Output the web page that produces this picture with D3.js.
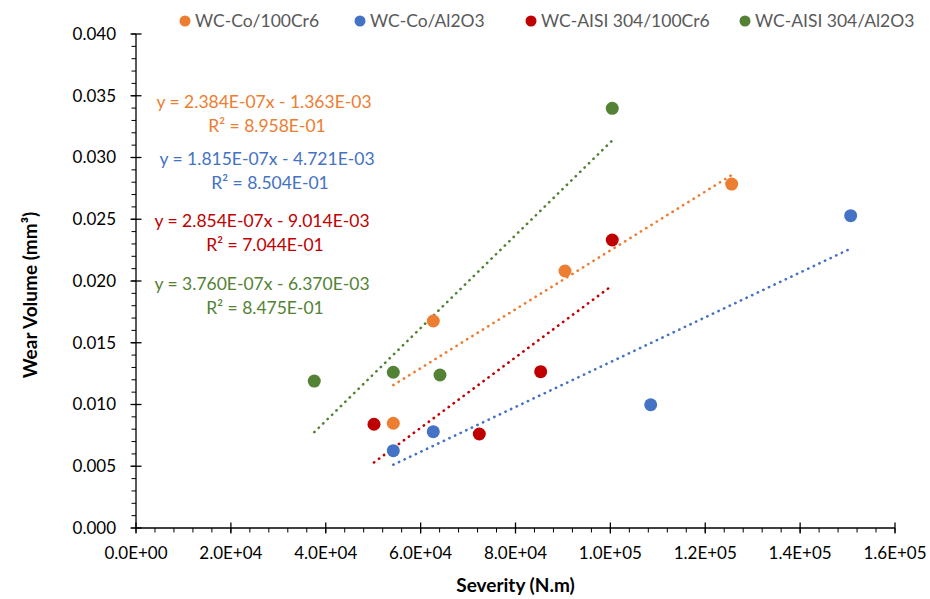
<!DOCTYPE html>
<html>
<head>
<meta charset="utf-8">
<script src="https://cdn.jsdelivr.net/npm/d3@7"></script>
<style>
  html, body { margin: 0; padding: 0; background: #fff; }
  svg { display: block; font-family: Lato, "Open Sans", sans-serif; }
</style>
</head>
<body>
<svg id="chart" width="930" height="599"></svg>
<script>
// ---- data ----
const seriesNames = ["WC-Co/100Cr6", "WC-Co/Al2O3", "WC-AISI 304/100Cr6", "WC-AISI 304/Al2O3"];
const seriesColors = ["#ED7D31", "#4472C4", "#C00000", "#548235"];
const coCr6X = [62670, 54240, 90430, 125570];
const coCr6Y = [0.01676, 0.00848, 0.02081, 0.02785];
const coAlX = [54240, 62670, 108500, 150650];
const coAlY = [0.00626, 0.00780, 0.00998, 0.02529];
const aisiCr6X = [50170, 72370, 85310, 100400];
const aisiCr6Y = [0.00840, 0.00761, 0.01266, 0.02332];
const aisiAlX = [37580, 54240, 64080, 100400];
const aisiAlY = [0.01190, 0.01261, 0.01239, 0.03398];
const slopes = [2.384e-07, 1.815e-07, 2.854e-07, 3.760e-07];
const intercepts = [-1.363e-03, -4.721e-03, -9.014e-03, -6.370e-03];
const rSquared = [8.958e-01, 8.504e-01, 7.044e-01, 8.475e-01];
const xTicks = [0, 20000, 40000, 60000, 80000, 100000, 120000, 140000, 160000];
const yTicks = [0, 0.005, 0.010, 0.015, 0.020, 0.025, 0.030, 0.035, 0.040];
const xTitle = "Severity (N.m)";
const yTitle = "Wear Volume (mm³)";

const seriesX = [coCr6X, coAlX, aisiCr6X, aisiAlX];
const seriesY = [coCr6Y, coAlY, aisiCr6Y, aisiAlY];

// ---- layout ----
const svg = d3.select("#chart");
const pLeft = 136, pRight = 895, pTop = 34, pBottom = 528;
const x = d3.scaleLinear().domain([0, 160000]).range([pLeft, pRight]);
const y = d3.scaleLinear().domain([0, 0.04]).range([pBottom, pTop]);

const fmtExp = v => {
  const s = Math.abs(v).toExponential(3);
  const [m, e] = s.split("e");
  const en = parseInt(e, 10);
  const es = (en < 0 ? "-" : "+") + String(Math.abs(en)).padStart(2, "0");
  return m + "E" + es;
};
const fmtTickX = v => {
  const s = v.toExponential(1);
  const [m, e] = s.split("e");
  const en = parseInt(e, 10);
  return m + "E" + (en < 0 ? "-" : "+") + String(Math.abs(en)).padStart(2, "0");
};

// axes
const axisColor = "#000";
const tickFont = 17;
const gx = svg.append("g");
gx.append("line").attr("x1", pLeft).attr("x2", pRight).attr("y1", pBottom).attr("y2", pBottom)
  .attr("stroke", axisColor).attr("stroke-width", 1.3);
const xMinor = d3.range(0, 160001, 4000);
gx.selectAll(".xminor").data(xMinor).join("line")
  .attr("x1", d => x(d)).attr("x2", d => x(d))
  .attr("y1", pBottom).attr("y2", pBottom + 4.5)
  .attr("stroke", axisColor).attr("stroke-width", 1);
gx.selectAll(".xmajor").data(xTicks).join("line")
  .attr("x1", d => x(d)).attr("x2", d => x(d))
  .attr("y1", pBottom - 5.5).attr("y2", pBottom + 5.5)
  .attr("stroke", axisColor).attr("stroke-width", 1.3);
gx.selectAll(".xlab").data(xTicks).join("text")
  .attr("x", d => x(d)).attr("y", pBottom + 31)
  .attr("text-anchor", "middle").attr("font-size", tickFont).attr("fill", "#000")
  .text(d => fmtTickX(d));

const gy = svg.append("g");
gy.append("line").attr("x1", pLeft).attr("x2", pLeft).attr("y1", pTop).attr("y2", pBottom)
  .attr("stroke", axisColor).attr("stroke-width", 1.3);
const yMinor = d3.range(0, 41).map(i => i * 0.001);
gy.selectAll(".yminor").data(yMinor).join("line")
  .attr("x1", pLeft - 4.5).attr("x2", pLeft)
  .attr("y1", d => y(d)).attr("y2", d => y(d))
  .attr("stroke", axisColor).attr("stroke-width", 1);
gy.selectAll(".ymajor").data(yTicks).join("line")
  .attr("x1", pLeft - 5.5).attr("x2", pLeft + 5.5)
  .attr("y1", d => y(d)).attr("y2", d => y(d))
  .attr("stroke", axisColor).attr("stroke-width", 1.3);
gy.selectAll(".ylab").data(yTicks).join("text")
  .attr("x", pLeft - 20).attr("y", d => y(d)).attr("dy", "0.35em")
  .attr("text-anchor", "end").attr("font-size", tickFont).attr("fill", "#000")
  .text(d => d.toFixed(3));

// titles
svg.append("text").attr("x", (pLeft + pRight) / 2).attr("y", 592)
  .attr("text-anchor", "middle").attr("font-size", 19).attr("font-weight", "bold")
  .attr("fill", "#000").text(xTitle);
svg.append("text").attr("transform", `translate(37,${(pTop + pBottom) / 2 + 14}) rotate(-90)`)
  .attr("text-anchor", "middle").attr("font-size", 19).attr("font-weight", "bold")
  .attr("fill", "#000").text(yTitle);

// trendlines
seriesNames.forEach((name, i) => {
  const ext = d3.extent(seriesX[i]);
  const pts = ext.map(v => [v, slopes[i] * v + intercepts[i]]);
  svg.append("path")
    .attr("d", d3.line().x(d => x(d[0])).y(d => y(d[1]))(pts))
    .attr("fill", "none").attr("stroke", seriesColors[i])
    .attr("stroke-width", 2.6).attr("stroke-linecap", "round")
    .attr("stroke-dasharray", "0.3 5.9");
});

// points
seriesNames.forEach((name, i) => {
  svg.append("g").selectAll("circle").data(d3.zip(seriesX[i], seriesY[i])).join("circle")
    .attr("cx", d => x(d[0])).attr("cy", d => y(d[1])).attr("r", 6.5)
    .attr("fill", seriesColors[i]);
});

// equations
const eqPos = [[264, 102], [267, 159], [262, 221], [262, 284]];
seriesNames.forEach((name, i) => {
  const sign = intercepts[i] < 0 ? " - " : " + ";
  const g = svg.append("g").attr("fill", seriesColors[i]).attr("font-size", 17.5).attr("text-anchor", "middle");
  g.append("text").attr("x", eqPos[i][0]).attr("y", eqPos[i][1]).attr("dy", "0.35em")
    .text("y = " + fmtExp(slopes[i]) + "x" + sign + fmtExp(intercepts[i]));
  g.append("text").attr("x", eqPos[i][0] + 3).attr("y", eqPos[i][1] + 24).attr("dy", "0.35em")
    .text("R² = " + fmtExp(rSquared[i]));
});

// legend
const legX = [185, 360, 531, 745];
const leg = svg.append("g");
seriesNames.forEach((name, i) => {
  leg.append("circle").attr("cx", legX[i]).attr("cy", 21).attr("r", 5.5).attr("fill", seriesColors[i]);
  leg.append("text").attr("x", legX[i] + 10).attr("y", 21).attr("dy", "0.35em")
    .attr("font-size", 17.5).attr("fill", "#595959").text(name);
});
</script>
</body>
</html>
